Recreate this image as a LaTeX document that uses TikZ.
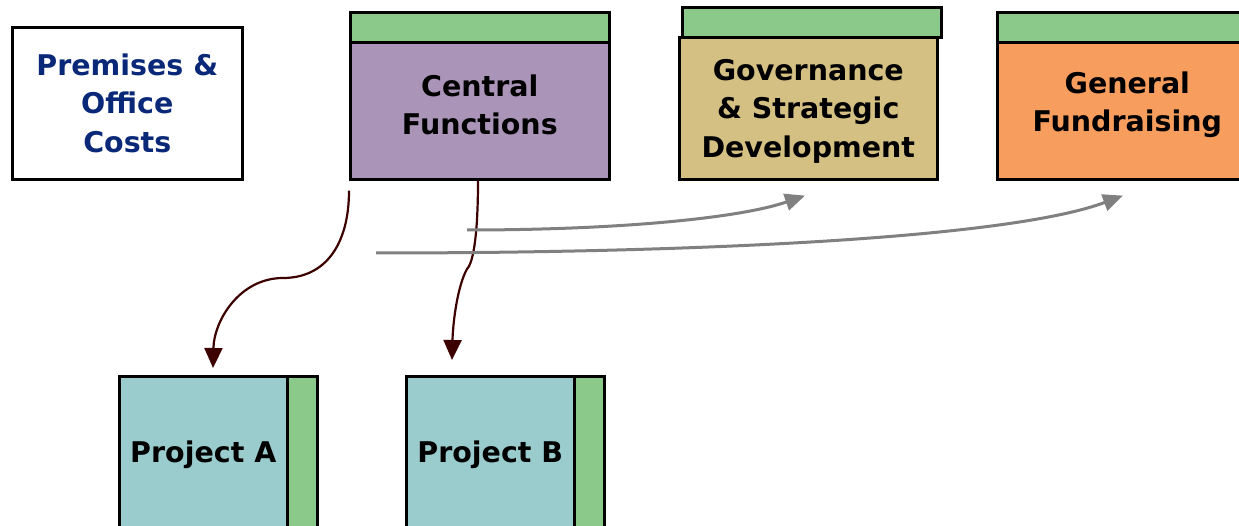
\documentclass[tikz,border=0pt]{standalone}
\usepackage{fontspec}
\setmainfont{DejaVu Sans}
\usetikzlibrary{arrows.meta}
\definecolor{hdrgreen}{RGB}{138,201,138}
\definecolor{cfpurple}{RGB}{170,148,184}
\definecolor{govtan}{RGB}{212,192,131}
\definecolor{fundorange}{RGB}{247,157,94}
\definecolor{projteal}{RGB}{154,204,206}
\definecolor{navy}{RGB}{10,40,120}
\definecolor{darkbrown}{RGB}{60,0,0}
\definecolor{flowgray}{RGB}{128,128,128}
\tikzset{
  box/.style={draw=black, line width=2.6pt, anchor=north west, inner sep=0pt,
    align=center, font=\fontsize{28.5}{38.5}\selectfont\bfseries},
  hdr/.style={draw=black, line width=2.6pt, fill=hdrgreen, anchor=north west, inner sep=0pt},
  brownarrow/.style={draw=darkbrown, line width=2.2pt, -{Triangle[length=20pt,width=18pt]}},
  grayarrow/.style={draw=flowgray, line width=3pt, -{Triangle[length=20pt,width=17pt]}}
}
\begin{document}
\begin{tikzpicture}[x=1pt,y=-1pt]
\useasboundingbox (0,0) rectangle (1239,526);
\clip (0,0) rectangle (1239,526);
% Premises
\node[box, fill=white, text=navy, minimum width=230pt, minimum height=152pt] (prem) at (11,26) {Premises \&\\Office\\Costs};
% Central functions
\node[hdr, minimum width=259pt, minimum height=30pt] (cfh) at (349,11) {};
\node[box, fill=cfpurple, minimum width=259pt, minimum height=137pt] (cf) at (349,41) {};
\node[box, anchor=center, draw=none] (cft) at ([yshift=6pt]cf.center) {Central\\Functions};
% Governance
\node[hdr, minimum width=259pt, minimum height=30pt] (govh) at (681,6) {};
\node[box, fill=govtan, minimum width=258pt, minimum height=142pt] (gov) at (678,36) {};
\node[box, anchor=center, draw=none] (govt) at ([yshift=-3pt]gov.center) {Governance\\\& Strategic\\Development};
% General fundraising
\node[hdr, minimum width=260pt, minimum height=30pt] (gfh) at (996,11) {};
\node[box, fill=fundorange, minimum width=260pt, minimum height=137pt] (gf) at (996,41) {};
\node[box, anchor=center, draw=none] (gft) at ([yshift=6pt]gf.center) {General\\Fundraising};
% Projects
\node[box, fill=projteal, minimum width=168pt, minimum height=156pt] (pa) at (118,375) {Project A};
\node[hdr, minimum width=30pt, minimum height=156pt] (pah) at (286,375) {};
\node[box, fill=projteal, minimum width=168pt, minimum height=156pt] (pb) at (405,375) {Project B};
\node[hdr, minimum width=30pt, minimum height=156pt] (pbh) at (573,375) {};
% connector end points
\coordinate (a1s) at ([yshift=-10pt]cf.south west);
\coordinate (a1m) at (283,278);
\coordinate (a1e) at ([xshift=95pt,yshift=7pt]pa.north west);
\coordinate (a2s) at ([xshift=129pt]cf.south west);
\coordinate (a2m) at (467,269);
\coordinate (a2e) at ([xshift=47pt,yshift=15pt]pb.north west);
\coordinate (g1s) at (467,230);
\coordinate (g1e) at ([xshift=127pt,yshift=-15pt]gov.south west);
\coordinate (g2s) at (376,253);
\coordinate (g2e) at ([xshift=127pt,yshift=-15pt]gf.south west);
% brown arrows
\draw[brownarrow] (a1s) .. controls (349,245) and (325,278) .. (a1m)
  .. controls (240,278) and (214,320) .. (a1e);
\draw[brownarrow] (a2s) .. controls (478,230) and (474,262) .. (a2m)
  .. controls (458,285) and (453,320) .. (a2e);
% gray arrows
\draw[grayarrow] (g1s) .. controls (620,230) and (740,218) .. (g1e);
\draw[grayarrow] (g2s) .. controls (700,253) and (1010,238) .. (g2e);
\end{tikzpicture}
\end{document}
